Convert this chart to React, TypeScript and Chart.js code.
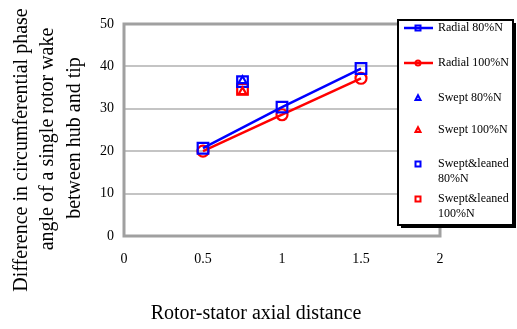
import React, { useEffect, useRef } from "react";
import { Chart, registerables } from "chart.js";

Chart.register(...registerables);

// ---- Data ----
const radialX = [0.5, 1, 1.5];
const radial80 = [20.7, 30.4, 39.5];
const radial100 = [20.0, 28.6, 37.2];
const sweptX = [0.75];
const swept80 = [36.6];
const swept100 = [34.0];
const sweptLeaned80 = [36.4];
const sweptLeaned100 = [34.6];

const xTicks = [0, 0.5, 1, 1.5, 2];
const yTicks = [0, 10, 20, 30, 40, 50];

const seriesLabels = [
  "Radial 80%N",
  "Radial 100%N",
  "Swept 80%N",
  "Swept 100%N",
  "Swept&leaned 80%N",
  "Swept&leaned 100%N",
];
const legendLines = [
  ["Radial 80%N"],
  ["Radial 100%N"],
  ["Swept 80%N"],
  ["Swept 100%N"],
  ["Swept&leaned", "80%N"],
  ["Swept&leaned", "100%N"],
];
const xTitle = "Rotor-stator axial distance";
const yTitleLines = [
  "Difference in circumferential phase",
  "angle of a single rotor wake",
  "between hub and tip",
];

const BLUE = "#0000ff";
const RED = "#ff0000";
const FONT = "'Liberation Serif', 'Times New Roman', serif";

const pts = (xs: number[], ys: number[]) => xs.map((x, i) => ({ x, y: ys[i] }));

const framePlugin = {
  id: "frame",
  beforeDatasetsDraw(chart: any) {
    const { ctx, chartArea: a } = chart;
    ctx.save();
    ctx.strokeStyle = "#a0a0a0";
    ctx.lineWidth = 3;
    ctx.strokeRect(a.left, a.top, a.right - a.left, a.bottom - a.top);
    ctx.restore();
  },
};

function drawMarker(ctx: CanvasRenderingContext2D, style: string, x: number, y: number, r: number) {
  ctx.beginPath();
  if (style === "rect") {
    ctx.rect(x - r, y - r, 2 * r, 2 * r);
  } else if (style === "circle") {
    ctx.arc(x, y, r, 0, Math.PI * 2);
  } else if (style === "triangle") {
    ctx.moveTo(x, y - r * 1.1);
    ctx.lineTo(x + r, y + r * 0.8);
    ctx.lineTo(x - r, y + r * 0.8);
    ctx.closePath();
  }
  ctx.stroke();
}

const overlayPlugin = {
  id: "overlay",
  afterDraw(chart: any) {
    const { ctx } = chart;
    ctx.save();
    // Axis titles
    ctx.fillStyle = "#000";
    ctx.font = `20px ${FONT}`;
    ctx.textAlign = "center";
    ctx.textBaseline = "alphabetic";
    ctx.fillText(xTitle, 256, 319);
    const yCenters = [150, 139, 138];
    const xCenters = [22, 48, 75];
    yTitleLines.forEach((line, i) => {
      ctx.save();
      ctx.translate(xCenters[i], yCenters[i]);
      ctx.rotate(-Math.PI / 2);
      ctx.textBaseline = "middle";
      ctx.fillText(line, 0, 0);
      ctx.restore();
    });

    // Legend box
    const bx = 398, by = 20, bw = 115, bh = 205;
    ctx.fillStyle = "#000";
    ctx.fillRect(bx + 3, by + 3, bw, bh);
    ctx.fillStyle = "#fff";
    ctx.fillRect(bx, by, bw, bh);
    ctx.strokeStyle = "#000";
    ctx.lineWidth = 2;
    ctx.strokeRect(bx, by, bw, bh);

    const ds = chart.data.datasets;
    const rowY = [28, 63, 98, 130, 164, 199];
    ctx.font = `12px ${FONT}`;
    ctx.textAlign = "left";
    ctx.textBaseline = "middle";
    ds.forEach((d: any, i: number) => {
      const y = rowY[i];
      ctx.strokeStyle = d.borderColor;
      if (d.showLine) {
        ctx.lineWidth = 2.5;
        ctx.beginPath();
        ctx.moveTo(404, y);
        ctx.lineTo(433, y);
        ctx.stroke();
      }
      ctx.lineWidth = 2;
      drawMarker(ctx, d.pointStyle, 418, y, 2.5);
      ctx.fillStyle = "#000";
      legendLines[i].forEach((t, j) => ctx.fillText(t, 438, y + j * 15));
    });
    ctx.restore();
  },
};

export default function App() {
  const ref = useRef<HTMLCanvasElement>(null);
  useEffect(() => {
    document.body.style.margin = "0";
    const common = { backgroundColor: "transparent", pointBackgroundColor: "transparent", borderWidth: 2.5, pointBorderWidth: 2.2 };
    const chart = new Chart(ref.current!, {
      type: "scatter",
      data: {
        datasets: [
          { ...common, label: seriesLabels[0], data: pts(radialX, radial80), borderColor: BLUE, pointBorderColor: BLUE, showLine: true, pointStyle: "rect", pointRadius: 7.5 },
          { ...common, label: seriesLabels[1], data: pts(radialX, radial100), borderColor: RED, pointBorderColor: RED, showLine: true, pointStyle: "circle", pointRadius: 5.5 },
          { ...common, label: seriesLabels[2], data: pts(sweptX, swept80), borderColor: BLUE, pointBorderColor: BLUE, showLine: false, pointStyle: "triangle", pointRadius: 4.5 },
          { ...common, label: seriesLabels[3], data: pts(sweptX, swept100), borderColor: RED, pointBorderColor: RED, showLine: false, pointStyle: "triangle", pointRadius: 4.5 },
          { ...common, label: seriesLabels[4], data: pts(sweptX, sweptLeaned80), borderColor: BLUE, pointBorderColor: BLUE, showLine: false, pointStyle: "rect", pointRadius: 7.5 },
          { ...common, label: seriesLabels[5], data: pts(sweptX, sweptLeaned100), borderColor: RED, pointBorderColor: RED, showLine: false, pointStyle: "rect", pointRadius: 7.5 },
        ] as any,
      },
      options: {
        animation: false,
        responsive: false,
        layout: { padding: { top: 24, right: 77, left: 0, bottom: 0 } },
        plugins: { legend: { display: false }, tooltip: { enabled: false } },
        scales: {
          x: {
            type: "linear",
            min: 0,
            max: 2,
            afterFit: (s: any) => { s.height = 93; },
            afterBuildTicks: (s: any) => { s.ticks = xTicks.map((v) => ({ value: v })); },
            grid: { display: false, drawTicks: false },
            border: { display: false },
            ticks: { color: "#000", font: { family: FONT, size: 14 }, padding: 15, callback: (v: any) => String(v) },
          },
          y: {
            type: "linear",
            min: 0,
            max: 50,
            afterFit: (s: any) => { s.width = 124; },
            afterBuildTicks: (s: any) => { s.ticks = yTicks.map((v) => ({ value: v })); },
            grid: { color: "#c4c4c4", lineWidth: 2, drawTicks: false },
            border: { display: false },
            ticks: { color: "#000", font: { family: FONT, size: 14 }, padding: 10, callback: (v: any) => String(v) },
          },
        },
      } as any,
      plugins: [framePlugin, overlayPlugin],
    });
    return () => chart.destroy();
  }, []);
  return (
    <div style={{ width: 517, height: 329, background: "#fff" }}>
      <canvas ref={ref} width={517} height={329} />
    </div>
  );
}
